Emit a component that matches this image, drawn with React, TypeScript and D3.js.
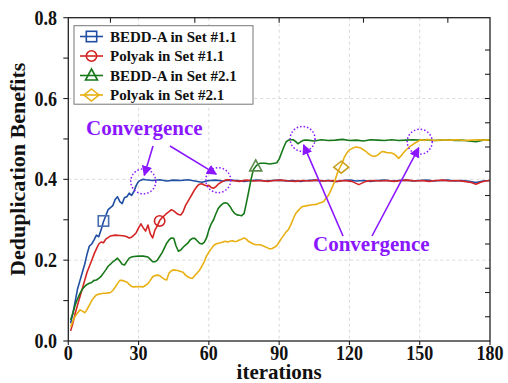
import React from "react";
import * as d3 from "d3";

const xTicks = [0, 30, 60, 90, 120, 150, 180];
const yTicks = [0.0, 0.2, 0.4, 0.6, 0.8];
const yMinorTicks = [0.1, 0.3, 0.5, 0.7];
const topTicks = [18, 54, 90, 126, 162];
const rightTicks = [0.06, 0.12, 0.18, 0.24, 0.3, 0.36, 0.42, 0.48, 0.54, 0.6, 0.66, 0.72];
const xGrid = [30, 60, 90, 120, 150];
const yGrid = [0.2, 0.4, 0.6];

const seriesNames = ["BEDD-A in Set #1.1", "Polyak in Set #1.1", "BEDD-A in Set #2.1", "Polyak in Set #2.1"];

const bedd11: [number, number][] = [
  [1, 0.044], [2, 0.07], [3, 0.1], [4, 0.13], [5, 0.15], [6, 0.17], [7, 0.19], [8, 0.215], [9, 0.235], [10, 0.24],
  [11, 0.25], [12, 0.262], [13, 0.258], [14, 0.275], [15, 0.295], [16, 0.31], [17, 0.325], [18, 0.33], [19, 0.335], [20, 0.35],
  [21, 0.357], [22, 0.345], [23, 0.34], [24, 0.355], [25, 0.357], [26, 0.366], [27, 0.36], [28, 0.37], [29, 0.385], [30, 0.395],
  [31, 0.398], [32, 0.4], [33, 0.399], [36, 0.397], [39, 0.399], [42, 0.396], [45, 0.398], [48, 0.397], [51, 0.399], [54, 0.396],
  [57, 0.393], [60, 0.397], [63, 0.398], [66, 0.396], [69, 0.398], [72, 0.397], [75, 0.395], [78, 0.397], [81, 0.398], [84, 0.396],
  [87, 0.397], [90, 0.398], [93, 0.396], [96, 0.397], [99, 0.395], [102, 0.397], [105, 0.398], [108, 0.396], [111, 0.397], [114, 0.394],
  [117, 0.397], [120, 0.398], [123, 0.396], [126, 0.397], [129, 0.395], [132, 0.397], [135, 0.398], [138, 0.396], [141, 0.397], [144, 0.398],
  [147, 0.396], [150, 0.397], [153, 0.398], [156, 0.396], [159, 0.397], [162, 0.398], [165, 0.396], [168, 0.397], [171, 0.395], [174, 0.392],
  [177, 0.396], [180, 0.397],
];

const polyak11: [number, number][] = [
  [1, 0.025], [2, 0.045], [3, 0.07], [4, 0.09], [5, 0.11], [6, 0.13], [7, 0.15], [8, 0.17], [9, 0.185], [10, 0.2],
  [11, 0.215], [12, 0.228], [13, 0.24], [14, 0.245], [15, 0.243], [16, 0.252], [17, 0.256], [18, 0.26], [20, 0.262], [22, 0.261],
  [24, 0.26], [25, 0.258], [26, 0.255], [27, 0.257], [28, 0.262], [29, 0.268], [30, 0.28], [31, 0.29], [32, 0.28], [33, 0.272],
  [34, 0.287], [35, 0.265], [36, 0.255], [37, 0.275], [38, 0.285], [39, 0.298], [40, 0.305], [41, 0.31], [42, 0.316], [43, 0.32],
  [44, 0.325], [45, 0.322], [46, 0.317], [47, 0.313], [48, 0.312], [49, 0.32], [50, 0.335], [51, 0.345], [52, 0.355], [53, 0.365],
  [54, 0.375], [55, 0.383], [56, 0.388], [57, 0.389], [58, 0.386], [59, 0.384], [60, 0.385], [61, 0.38], [62, 0.378], [63, 0.382],
  [64, 0.388], [65, 0.392], [66, 0.395], [67, 0.398], [68, 0.399], [70, 0.397], [73, 0.395], [76, 0.398], [79, 0.396], [82, 0.397],
  [85, 0.395], [88, 0.397], [91, 0.398], [94, 0.396], [97, 0.395], [100, 0.397], [103, 0.396], [106, 0.398], [109, 0.396], [112, 0.397],
  [115, 0.395], [118, 0.397], [121, 0.395], [124, 0.387], [127, 0.395], [130, 0.397], [133, 0.396], [136, 0.397], [139, 0.395], [142, 0.397],
  [145, 0.398], [148, 0.396], [151, 0.397], [154, 0.395], [157, 0.397], [160, 0.398], [163, 0.396], [166, 0.397], [169, 0.395], [172, 0.392],
  [174, 0.388], [176, 0.393], [178, 0.396], [180, 0.397],
];

const bedd21: [number, number][] = [
  [1, 0.052], [2, 0.07], [3, 0.09], [4, 0.105], [5, 0.118], [6, 0.128], [7, 0.135], [8, 0.14], [9, 0.143], [10, 0.145],
  [11, 0.15], [12, 0.151], [13, 0.155], [14, 0.16], [15, 0.168], [16, 0.176], [17, 0.185], [18, 0.19], [19, 0.196], [20, 0.2],
  [21, 0.205], [22, 0.198], [23, 0.19], [24, 0.188], [25, 0.197], [26, 0.205], [27, 0.208], [28, 0.209], [30, 0.21], [32, 0.21],
  [34, 0.208], [35, 0.202], [36, 0.196], [37, 0.196], [38, 0.2], [39, 0.209], [40, 0.218], [41, 0.23], [42, 0.242], [43, 0.25],
  [44, 0.255], [45, 0.254], [46, 0.235], [47, 0.222], [48, 0.225], [49, 0.232], [50, 0.237], [51, 0.242], [52, 0.25], [53, 0.254],
  [54, 0.254], [55, 0.248], [56, 0.242], [57, 0.24], [58, 0.244], [59, 0.255], [60, 0.275], [61, 0.29], [62, 0.3], [63, 0.315],
  [64, 0.328], [65, 0.335], [66, 0.34], [67, 0.342], [68, 0.34], [69, 0.333], [70, 0.323], [71, 0.316], [72, 0.312], [73, 0.311],
  [74, 0.31], [75, 0.315], [76, 0.341], [77, 0.37], [78, 0.4], [79, 0.424], [80, 0.432], [81, 0.438], [82, 0.44], [84, 0.44],
  [86, 0.438], [88, 0.44], [89, 0.441], [90, 0.45], [91, 0.465], [92, 0.48], [93, 0.493], [94, 0.497], [95, 0.498], [96, 0.498],
  [97, 0.494], [98, 0.488], [99, 0.492], [100, 0.496], [101, 0.497], [102, 0.497], [105, 0.495], [108, 0.498], [111, 0.496], [114, 0.497],
  [117, 0.499], [120, 0.496], [123, 0.497], [126, 0.495], [129, 0.498], [132, 0.497], [135, 0.496], [138, 0.498], [141, 0.496], [144, 0.497],
  [147, 0.498], [150, 0.497], [153, 0.498], [156, 0.496], [159, 0.497], [162, 0.498], [165, 0.496], [168, 0.497], [171, 0.495], [174, 0.493],
  [177, 0.497], [180, 0.497],
];

const polyak21: [number, number][] = [
  [1, 0.035], [2, 0.05], [3, 0.062], [4, 0.07], [5, 0.077], [6, 0.074], [7, 0.07], [8, 0.078], [9, 0.089], [10, 0.1],
  [11, 0.108], [12, 0.114], [13, 0.116], [14, 0.117], [15, 0.118], [16, 0.118], [17, 0.119], [18, 0.12], [19, 0.125], [20, 0.133],
  [21, 0.142], [22, 0.15], [23, 0.15], [24, 0.148], [25, 0.146], [26, 0.14], [27, 0.135], [28, 0.134], [30, 0.135], [32, 0.134],
  [33, 0.138], [34, 0.142], [35, 0.15], [36, 0.159], [37, 0.162], [38, 0.163], [39, 0.162], [40, 0.157], [41, 0.153], [42, 0.151],
  [43, 0.168], [44, 0.174], [45, 0.176], [46, 0.175], [47, 0.174], [48, 0.172], [49, 0.17], [50, 0.163], [51, 0.159], [52, 0.156],
  [53, 0.155], [54, 0.162], [55, 0.168], [56, 0.175], [57, 0.185], [58, 0.196], [59, 0.21], [60, 0.22], [61, 0.228], [62, 0.236],
  [63, 0.24], [64, 0.242], [65, 0.243], [66, 0.245], [67, 0.247], [68, 0.245], [69, 0.247], [70, 0.248], [71, 0.246], [72, 0.247],
  [73, 0.25], [74, 0.252], [75, 0.255], [76, 0.252], [77, 0.246], [78, 0.243], [79, 0.24], [80, 0.238], [82, 0.238], [84, 0.233],
  [86, 0.228], [87, 0.229], [88, 0.232], [89, 0.236], [90, 0.245], [91, 0.254], [92, 0.262], [93, 0.27], [94, 0.276], [95, 0.288],
  [96, 0.302], [97, 0.315], [98, 0.322], [99, 0.328], [100, 0.333], [102, 0.335], [104, 0.337], [106, 0.338], [107, 0.341], [108, 0.343],
  [109, 0.345], [110, 0.353], [111, 0.36], [112, 0.372], [113, 0.385], [114, 0.4], [115, 0.418], [116, 0.43], [117, 0.442], [118, 0.457],
  [119, 0.466], [120, 0.473], [121, 0.476], [122, 0.479], [123, 0.48], [124, 0.479], [125, 0.477], [126, 0.473], [127, 0.469], [128, 0.464],
  [129, 0.46], [130, 0.457], [131, 0.457], [132, 0.46], [133, 0.465], [134, 0.469], [135, 0.468], [136, 0.466], [137, 0.466], [138, 0.465],
  [139, 0.463], [140, 0.458], [141, 0.452], [142, 0.458], [143, 0.465], [144, 0.472], [145, 0.477], [146, 0.482], [147, 0.486], [148, 0.49],
  [149, 0.493], [150, 0.497], [151, 0.498], [152, 0.496], [153, 0.499], [154, 0.498], [157, 0.496], [160, 0.498], [163, 0.497], [166, 0.498],
  [169, 0.496], [172, 0.497], [175, 0.498], [178, 0.497], [180, 0.498],
];

// marker positions [iteration, value]
const markerPoints: [number, number][] = [[15, 0.297], [39, 0.297], [80, 0.432], [116.5, 0.43]];

// convergence circles [iteration, value]
const convergencePoints: [number, number][] = [[32, 0.395], [64, 0.398], [100, 0.5], [150, 0.493]];

const lineColors = ["#1f4ea3", "#d42424", "#17781a", "#e8b012"];
const markerColors = ["#4a6db0", "#d42424", "#5c8a4c", "#c9a020"];
const purple = "#8a17ff";

const W = 508;
const H = 383;
const m = { left: 68.3, right: 490, top: 17.7, bottom: 341 };
const FONT = "'Liberation Serif', 'Times New Roman', serif";

function Marker({ kind, cx, cy, color }: { kind: number; cx: number; cy: number; color: string }) {
  const s = 5.2;
  if (kind === 0) return <rect x={cx - s} y={cy - s} width={2 * s} height={2 * s} fill="none" stroke={color} strokeWidth={1.6} />;
  if (kind === 1) return <circle cx={cx} cy={cy} r={s} fill="none" stroke={color} strokeWidth={1.6} />;
  if (kind === 2)
    return <path d={`M${cx},${cy - 6.5} L${cx + 6},${cy + 4.5} L${cx - 6},${cy + 4.5} Z`} fill="none" stroke={color} strokeWidth={1.6} />;
  return <path d={`M${cx},${cy - 6} L${cx + 7.5},${cy} L${cx},${cy + 6} L${cx - 7.5},${cy} Z`} fill="none" stroke={color} strokeWidth={1.6} />;
}

export default function App() {
  const x = d3.scaleLinear().domain([0, 180]).range([m.left, m.right]);
  const y = d3.scaleLinear().domain([0, 0.8]).range([m.bottom, m.top]);
  const line = d3
    .line<[number, number]>()
    .x((d) => x(d[0]))
    .y((d) => y(d[1]))
    .curve(d3.curveLinear);
  const series = [bedd11, polyak11, bedd21, polyak21];

  const arrow = (x1: number, y1: number, x2: number, y2: number, key: string) => (
    <line key={key} x1={x1} y1={y1} x2={x2} y2={y2} stroke={purple} strokeWidth={1.6} markerEnd="url(#ah)" />
  );

  return (
    <svg width={W} height={H} style={{ position: "absolute", left: 0, top: 0 }} fontFamily={FONT}>
      <defs>
        <marker id="ah" viewBox="0 0 10 10" refX="9" refY="5" markerWidth="6.5" markerHeight="6.5" orient="auto">
          <path d="M0,0 L10,5 L0,10 Z" fill={purple} />
        </marker>
        <clipPath id="plot">
          <rect x={m.left} y={m.top} width={m.right - m.left} height={m.bottom - m.top} />
        </clipPath>
      </defs>
      <rect x={0} y={0} width={W} height={H} fill="#fff" />
      {xGrid.map((t) => (
        <line key={"gx" + t} x1={x(t)} x2={x(t)} y1={m.top} y2={m.bottom} stroke="#cfcfcf" strokeWidth={0.8} strokeDasharray="3,3" />
      ))}
      {yGrid.map((t) => (
        <line key={"gy" + t} x1={m.left} x2={m.right} y1={y(t)} y2={y(t)} stroke="#cfcfcf" strokeWidth={0.8} strokeDasharray="3,3" />
      ))}
      <g clipPath="url(#plot)">
        {series.map((s, i) => (
          <path key={"s" + i} d={line(s) || ""} fill="none" stroke={lineColors[i]} strokeWidth={1.6} strokeLinejoin="round" />
        ))}
      </g>
      {markerPoints.map((p, i) => (
        <Marker key={"mk" + i} kind={i} cx={x(p[0])} cy={y(p[1])} color={markerColors[i]} />
      ))}
      <rect x={m.left} y={m.top} width={m.right - m.left} height={m.bottom - m.top} fill="none" stroke="#222" strokeWidth={1.3} />
      {[...yTicks, ...yMinorTicks].map((t) => (
        <line key={"yt" + t} x1={m.left - 5} x2={m.left} y1={y(t)} y2={y(t)} stroke="#222" strokeWidth={1.1} />
      ))}
      {yTicks.map((t) => (
        <text
          key={"yl" + t}
          transform={`translate(57,${y(t) + 7}) scale(1,1.22)`}
          textAnchor="end"
          fontSize={18}
          fontWeight="bold"
          fill="#111"
        >
          {t.toFixed(1)}
        </text>
      ))}
      {xTicks.map((t) => (
        <line key={"xt" + t} x1={x(t)} x2={x(t)} y1={m.bottom} y2={m.bottom + 4} stroke="#222" strokeWidth={1.1} />
      ))}
      {xTicks.map((t) => (
        <text
          key={"xl" + t}
          transform={`translate(${x(t)},360) scale(1,1.22)`}
          textAnchor="middle"
          fontSize={18}
          fontWeight="bold"
          fill="#111"
        >
          {t}
        </text>
      ))}
      {topTicks.map((t) => (
        <line key={"tt" + t} x1={x(t)} x2={x(t)} y1={m.top} y2={m.top + 5} stroke="#222" strokeWidth={1.1} />
      ))}
      {rightTicks.map((t) => (
        <line key={"rt" + t} x1={m.right - 5} x2={m.right} y1={y(t)} y2={y(t)} stroke="#222" strokeWidth={1.1} />
      ))}
      <text x={(m.left + m.right) / 2} y={379} textAnchor="middle" fontSize={21} fontWeight="bold" fill="#111">
        iterations
      </text>
      <text
        transform={`translate(25,${(m.top + m.bottom) / 2 - 10}) rotate(-90)`}
        textAnchor="middle"
        fontSize={22}
        fontWeight="bold"
        fill="#111"
      >
        Deduplication Benefits
      </text>
      <rect x={74} y={25.7} width={179} height={78.5} fill="#fff" stroke="#777" strokeWidth={1} />
      {seriesNames.map((n, i) => {
        const cy = 36.5 + i * 19.5;
        return (
          <g key={"lg" + i}>
            <line x1={80} x2={103} y1={cy} y2={cy} stroke={lineColors[i]} strokeWidth={1.6} />
            <Marker kind={i} cx={91.5} cy={cy} color={lineColors[i]} />
            <text x={110} y={cy + 5} fontSize={15} fontWeight="bold" fill="#111">
              {n}
            </text>
          </g>
        );
      })}
      {convergencePoints.map((p, i) => (
        <circle key={"cc" + i} cx={x(p[0])} cy={y(p[1])} r={12.5} fill="none" stroke={purple} strokeWidth={1.5} strokeDasharray="1.5,2" />
      ))}
      <text x={86} y={135} fontSize={21} fontWeight="bold" fill={purple}>
        Convergence
      </text>
      <text x={313} y={251} fontSize={21} fontWeight="bold" fill={purple}>
        Convergence
      </text>
      {arrow(153, 146, x(32) + 1, y(0.395) - 6, "a1")}
      {arrow(170, 146, x(64) - 2, y(0.398) - 6, "a2")}
      {arrow(343, 236, x(100) + 1, y(0.5) + 6, "a3")}
      {arrow(372, 236, x(150) - 1, y(0.493) + 6, "a4")}
    </svg>
  );
}
